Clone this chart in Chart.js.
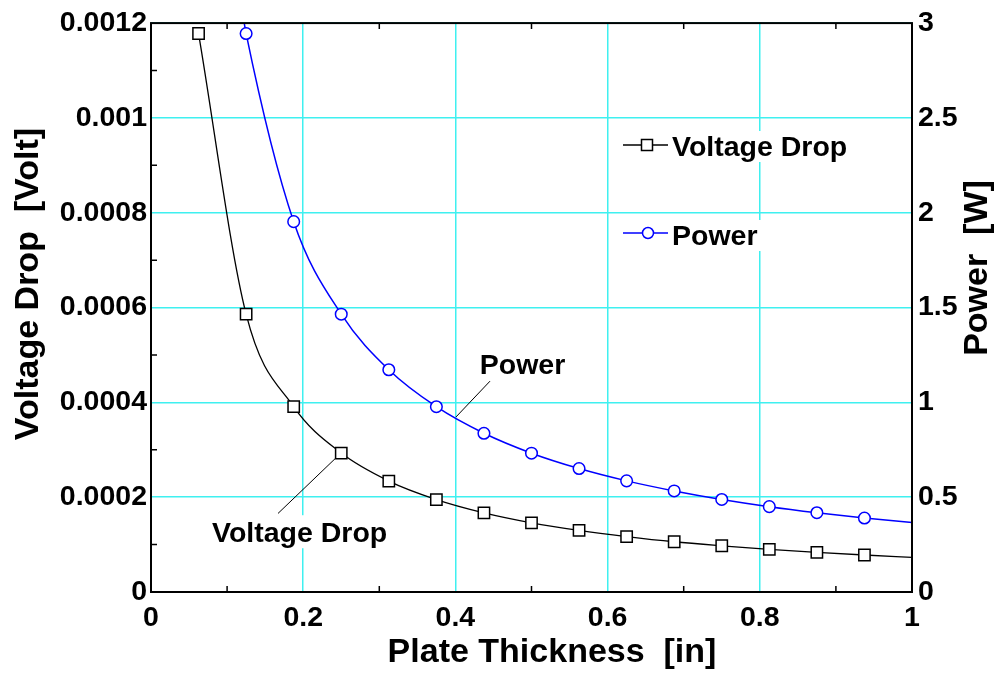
<!DOCTYPE html>
<html>
<head>
<meta charset="utf-8">
<title>Voltage Drop / Power vs Plate Thickness</title>
<script src="https://cdn.jsdelivr.net/npm/chart.js@4.4.1/dist/chart.umd.min.js"></script>
<style>
  html, body { margin: 0; padding: 0; background: #fff; }
  canvas { display: block; }
</style>
</head>
<body>
<canvas id="grafico" width="997" height="673"></canvas>
<script>
// Espesor de placa [in] y caida de voltaje [Volt]
const espesorVolt = [0.0625, 0.125, 0.1875, 0.25, 0.3125, 0.375, 0.4375, 0.5, 0.5625, 0.625, 0.6875, 0.75, 0.8125, 0.875, 0.9375, 1];
const voltaje = [0.001178, 0.000586, 0.000391, 0.000293, 0.000234, 0.000195, 0.000167, 0.000146, 0.00013, 0.000117, 0.000106, 0.0000975, 0.00009, 0.0000835, 0.000078, 0.0000732];

// Espesor de placa [in] y potencia [W] (el primer punto sale por arriba del grafico)
const espesorPot = [0.12, 0.125, 0.1875, 0.25, 0.3125, 0.375, 0.4375, 0.5, 0.5625, 0.625, 0.6875, 0.75, 0.8125, 0.875, 0.9375, 1];
const potencia = [3.06, 2.945, 1.953, 1.465, 1.172, 0.977, 0.837, 0.732, 0.651, 0.586, 0.533, 0.488, 0.45, 0.418, 0.39, 0.366];

// Etiquetas de los ejes
const etiquetasX = ['0', '0.2', '0.4', '0.6', '0.8', '1'];
const etiquetasVolt = ['0', '0.0002', '0.0004', '0.0006', '0.0008', '0.001', '0.0012'];
const etiquetasPot = ['0', '0.5', '1', '1.5', '2', '2.5', '3'];

const fuente = "'Liberation Sans', Arial, Helvetica, sans-serif";
const cian = '#3ff0f0';

// Marcadores: sin marcador en los extremos de las curvas
const radiosVolt = espesorVolt.map((x, i) => i === espesorVolt.length - 1 ? 0 : 8);
const radiosPot = espesorPot.map((x, i) => (i === 0 || i === espesorPot.length - 1) ? 0 : 5.8);

// Dibuja marco, marcas menores, anotaciones y leyenda
const extras = {
  id: 'extras',
  afterDraw(chart) {
    const ctx = chart.ctx;
    const a = chart.chartArea;
    const sx = chart.scales.x, sy = chart.scales.y, sp = chart.scales.y1;
    ctx.save();

    // marcas menores hacia adentro
    ctx.strokeStyle = '#000';
    ctx.lineWidth = 1.5;
    ctx.beginPath();
    for (let v = 0.1; v < 1; v += 0.2) {
      const px = sx.getPixelForValue(v);
      ctx.moveTo(px, a.bottom); ctx.lineTo(px, a.bottom - 6);
      ctx.moveTo(px, a.top); ctx.lineTo(px, a.top + 6);
    }
    for (let v = 0.0001; v < 0.0012; v += 0.0002) {
      const py = sy.getPixelForValue(v);
      ctx.moveTo(a.left, py); ctx.lineTo(a.left + 6, py);
    }
    ctx.stroke();

    // marco
    ctx.lineWidth = 2;
    ctx.strokeRect(a.left, a.top, a.right - a.left, a.bottom - a.top);

    // anotaciones con linea guia
    ctx.font = 'bold 28.5px ' + fuente;
    ctx.textBaseline = 'alphabetic';
    ctx.textAlign = 'left';

    const tx = sx.getPixelForValue(0.0802), ty = sy.getPixelForValue(0.000105);
    const w = ctx.measureText('Voltage Drop').width;
    ctx.fillStyle = '#fff';
    ctx.fillRect(tx - 2, ty - 27, w + 4, 33);
    ctx.fillStyle = '#000';
    ctx.fillText('Voltage Drop', tx, ty);
    ctx.fillText('Power', sx.getPixelForValue(0.432), sp.getPixelForValue(1.149));

    ctx.lineWidth = 1;
    ctx.beginPath();
    ctx.moveTo(sx.getPixelForValue(0.1669), sy.getPixelForValue(0.0001657));
    ctx.lineTo(sx.getPixelForValue(0.2431), sy.getPixelForValue(0.000283));
    ctx.moveTo(sx.getPixelForValue(0.4008), sp.getPixelForValue(0.923));
    ctx.lineTo(sx.getPixelForValue(0.4455), sp.getPixelForValue(1.112));
    ctx.stroke();

    // leyenda
    const entradas = [
      { texto: 'Voltage Drop', color: '#000', y: 145, base: 156, forma: 'cuadro' },
      { texto: 'Power', color: '#0000ff', y: 233, base: 245, forma: 'circulo' }
    ];
    entradas.forEach(e => {
      const tw = ctx.measureText(e.texto).width;
      ctx.fillStyle = '#fff';
      ctx.fillRect(670, e.base - 25, tw + 8, 31);
      ctx.strokeStyle = e.color;
      ctx.lineWidth = 1.5;
      ctx.beginPath();
      ctx.moveTo(623, e.y); ctx.lineTo(668, e.y);
      ctx.stroke();
      ctx.fillStyle = '#fff';
      ctx.beginPath();
      if (e.forma === 'cuadro') ctx.rect(641.5, e.y - 5.5, 11, 11);
      else ctx.arc(648, e.y, 5.5, 0, Math.PI * 2);
      ctx.fill(); ctx.stroke();
      ctx.fillStyle = '#000';
      ctx.fillText(e.texto, 672, e.base);
    });

    // titulos de los ejes
    ctx.font = 'bold 34px ' + fuente;
    ctx.textAlign = 'center';
    ctx.textBaseline = 'middle';
    ctx.fillText('Plate Thickness  [in]', 552, 653);
    ctx.save();
    ctx.translate(29, 284);
    ctx.rotate(-Math.PI / 2);
    ctx.fillText('Voltage Drop  [Volt]', 0, 0);
    ctx.restore();
    ctx.save();
    ctx.translate(978, 268);
    ctx.rotate(-Math.PI / 2);
    ctx.fillText('Power  [W]', 0, 0);
    ctx.restore();

    ctx.restore();
  }
};

const fuenteTicks = { family: fuente, size: 28.5, weight: 'bold' };

new Chart(document.getElementById('grafico'), {
  type: 'line',
  data: {
    datasets: [{
      label: 'Voltage Drop',
      data: espesorVolt.map((x, i) => ({ x: x, y: voltaje[i] })),
      yAxisID: 'y',
      borderColor: '#000',
      borderWidth: 1.3,
      pointStyle: 'rect',
      pointRadius: radiosVolt,
      pointBackgroundColor: '#fff',
      pointBorderColor: '#000',
      pointBorderWidth: 1.5,
      cubicInterpolationMode: 'monotone',
      fill: false
    }, {
      label: 'Power',
      data: espesorPot.map((x, i) => ({ x: x, y: potencia[i] })),
      yAxisID: 'y1',
      borderColor: '#0000ff',
      borderWidth: 1.5,
      pointStyle: 'circle',
      pointRadius: radiosPot,
      pointBackgroundColor: '#fff',
      pointBorderColor: '#0000ff',
      pointBorderWidth: 1.5,
      cubicInterpolationMode: 'monotone',
      fill: false
    }]
  },
  options: {
    responsive: false,
    animation: false,
    devicePixelRatio: 1,
    layout: { padding: { top: 20, left: 0, right: 0, bottom: 0 } },
    plugins: { legend: { display: false }, tooltip: { enabled: false } },
    scales: {
      x: {
        type: 'linear', min: 0, max: 1,
        afterFit: s => { s.height = 81; },
        grid: { color: cian, lineWidth: 1.5, drawTicks: false },
        border: { display: false },
        ticks: { stepSize: 0.2, autoSkip: false, maxRotation: 0, padding: 9, color: '#000', font: fuenteTicks,
          callback: (v, i) => etiquetasX[i] }
      },
      y: {
        type: 'linear', position: 'left', min: 0, max: 0.0012,
        afterFit: s => { s.width = 151; },
        grid: { color: cian, lineWidth: 1.5, drawTicks: false },
        border: { display: false },
        ticks: { stepSize: 0.0002, autoSkip: false, padding: 4, color: '#000', font: fuenteTicks,
          callback: (v, i) => etiquetasVolt[i] }
      },
      y1: {
        type: 'linear', position: 'right', min: 0, max: 3,
        afterFit: s => { s.width = 85; },
        grid: { display: false, drawTicks: false },
        border: { display: false },
        ticks: { stepSize: 0.5, autoSkip: false, padding: 6, color: '#000', font: fuenteTicks,
          callback: (v, i) => etiquetasPot[i] }
      }
    }
  },
  plugins: [extras]
});
</script>
</body>
</html>
